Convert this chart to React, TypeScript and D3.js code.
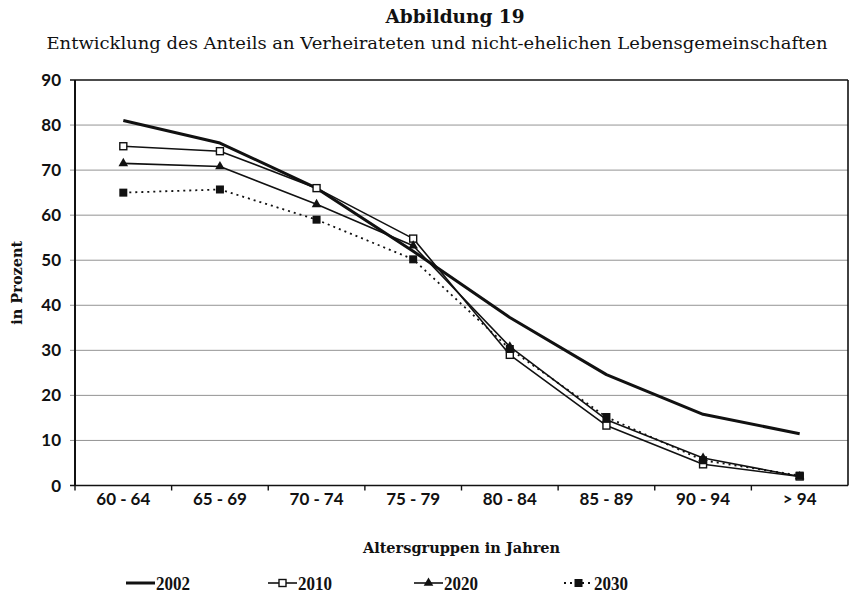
import React from "react";
import * as d3 from "d3";

const categories = ["60 - 64", "65 - 69", "70 - 74", "75 - 79", "80 - 84", "85 - 89", "90 - 94", "> 94"];
const yTicks = [0, 10, 20, 30, 40, 50, 60, 70, 80, 90];
const s2002 = [81, 76, 66, 52, 37.3, 24.6, 15.8, 11.5];
const s2010 = [75.3, 74.2, 66, 54.8, 29, 13.3, 4.7, 2];
const s2020 = [71.5, 70.8, 62.4, 53.2, 30.8, 14.6, 6.1, 2];
const s2030 = [65, 65.7, 59, 50.2, 30.3, 15.2, 5.6, 2.2];
const seriesNames = ["2002", "2010", "2020", "2030"];

const W = 850, H = 598;
const M = { left: 75, right: 848, top: 80, bottom: 485.5 };

export default function App() {
  const x = d3.scaleBand<string>().domain(categories).range([M.left, M.right]);
  const y = d3.scaleLinear().domain([0, 90]).range([M.bottom, M.top]);
  const cx = (c: string) => (x(c) as number) + x.bandwidth() / 2;
  const line = d3.line<number>().x((_, i) => cx(categories[i])).y((v) => y(v));

  const series = [
    { name: seriesNames[0], data: s2002, width: 3, dash: undefined as string | undefined, marker: "none" },
    { name: seriesNames[1], data: s2010, width: 1.6, dash: undefined, marker: "open" },
    { name: seriesNames[2], data: s2020, width: 1.6, dash: undefined, marker: "tri" },
    { name: seriesNames[3], data: s2030, width: 1.8, dash: "2,4", marker: "sq" },
  ];

  const marker = (kind: string, px: number, py: number, key: string | number) => {
    if (kind === "open") return <rect key={key} x={px - 3.5} y={py - 3.5} width={7} height={7} fill="#fff" stroke="#111" strokeWidth={1.4} />;
    if (kind === "sq") return <rect key={key} x={px - 4} y={py - 4} width={8} height={8} fill="#111" />;
    if (kind === "tri") return <path key={key} d={d3.symbol(d3.symbolTriangle, 40)() as string} transform={`translate(${px},${py})`} fill="#111" />;
    return null;
  };

  const legendX = [126, 268, 414, 564];

  return (
    <svg width={W} height={H} style={{ position: "absolute", left: 0, top: 0, background: "#fff" }}>
      <text x={455} y={23} textAnchor="middle" fontFamily="DejaVu Serif" fontWeight="bold" fontSize={18.5} fill="#111">Abbildung 19</text>
      <text x={437} y={49} textAnchor="middle" fontFamily="DejaVu Serif" fontSize={16.5} fill="#111" textLength={781} lengthAdjust="spacingAndGlyphs">Entwicklung des Anteils an Verheirateten und nicht-ehelichen Lebensgemeinschaften</text>

      {/* gridlines */}
      {yTicks.map((t) => (
        <line key={"g" + t} x1={M.left - 5} x2={M.right} y1={y(t)} y2={y(t)} stroke={t === 0 || t === 90 ? "#111" : "#777"} strokeWidth={t === 0 || t === 90 ? 1.6 : 0.8} />
      ))}
      {/* axes */}
      <line x1={M.left} x2={M.left} y1={M.top} y2={M.bottom} stroke="#111" strokeWidth={2} />
      <line x1={M.right} x2={M.right} y1={M.top} y2={M.bottom} stroke="#111" strokeWidth={1.6} />
      {categories.map((c, i) => (
        <line key={"xt" + i} x1={x(c) as number} x2={x(c) as number} y1={M.bottom} y2={M.bottom + 5} stroke="#111" strokeWidth={1.4} />
      ))}
      {yTicks.map((t) => (
        <text key={"yl" + t} x={61} y={y(t) + 6} textAnchor="end" fontFamily="Lato" fontWeight="bold" fontSize={17} fill="#111">{t}</text>
      ))}
      {categories.map((c) => (
        <text key={"xl" + c} x={cx(c)} y={505} textAnchor="middle" fontFamily="Lato" fontWeight="bold" fontSize={17} fill="#111">{c}</text>
      ))}
      <text transform={`translate(22,${(M.top + M.bottom) / 2}) rotate(-90)`} textAnchor="middle" fontFamily="DejaVu Serif" fontWeight="bold" fontSize={14.5} fill="#111">in Prozent</text>
      <text x={(M.left + M.right) / 2} y={553} textAnchor="middle" fontFamily="DejaVu Serif" fontWeight="bold" fontSize={14.5} fill="#111">Altersgruppen in Jahren</text>

      {/* series */}
      {series.map((s) => (
        <g key={s.name}>
          <path d={line(s.data) as string} fill="none" stroke="#111" strokeWidth={s.width} strokeDasharray={s.dash} strokeLinejoin="round" />
          {s.data.map((v, i) => marker(s.marker, cx(categories[i]), y(v), i))}
        </g>
      ))}

      {/* legend */}
      {series.map((s, i) => (
        <g key={"lg" + s.name}>
          <line x1={legendX[i]} x2={legendX[i] + 29} y1={583} y2={583} stroke="#111" strokeWidth={s.width} strokeDasharray={s.dash} />
          {marker(s.marker, legendX[i] + 14.5, 583, "m")}
          <text x={legendX[i] + 30} y={590} fontFamily="Liberation Serif" fontWeight="bold" fontSize={19} fill="#111" textLength={34} lengthAdjust="spacingAndGlyphs">{s.name}</text>
        </g>
      ))}
    </svg>
  );
}
